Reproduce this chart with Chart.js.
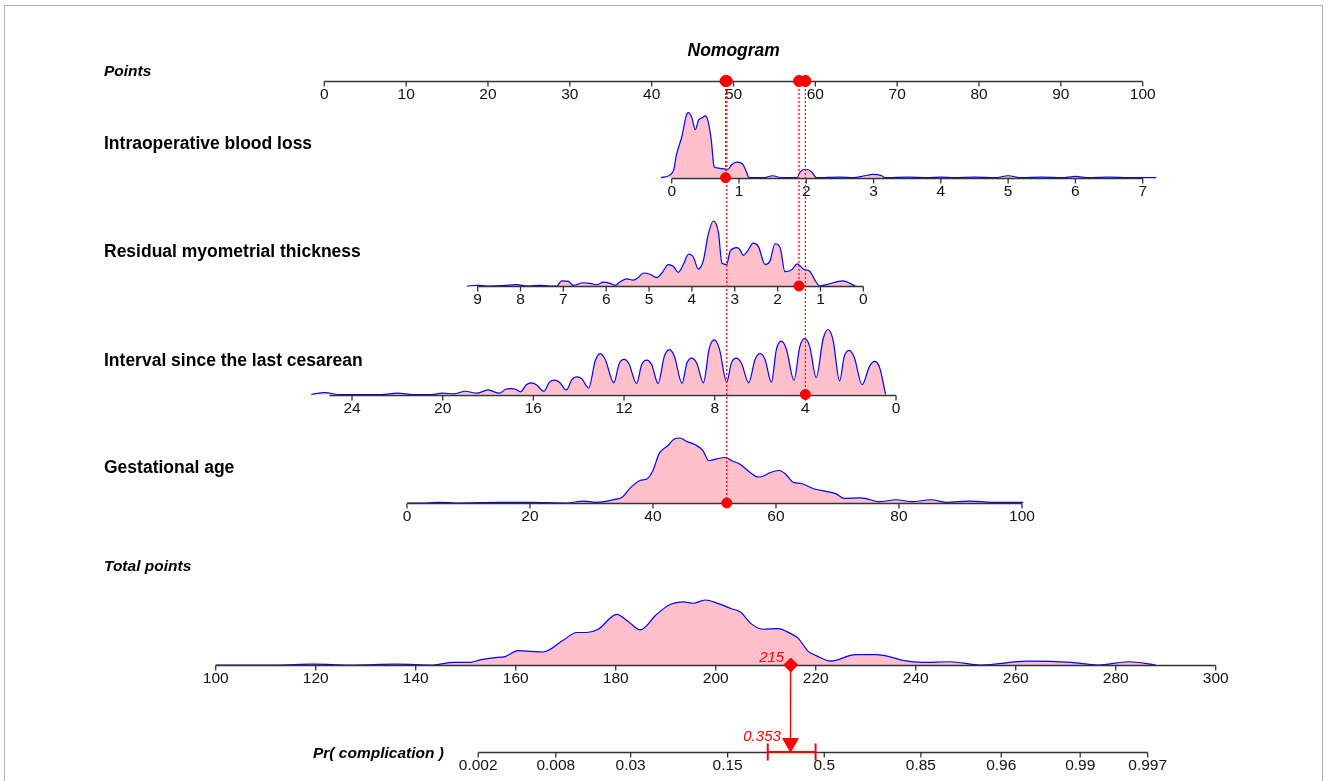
<!DOCTYPE html>
<html>
<head>
<meta charset="utf-8">
<title>Nomogram</title>
<script src="https://cdn.jsdelivr.net/npm/chart.js@4.4.1/dist/chart.umd.min.js"></script>
<style>
	html, body { margin: 0; padding: 0; background: #fff; }
	#wrap { width: 1328px; height: 781px; }
</style>
</head>
<body>
<div id="wrap"><canvas id="nomogram" width="1328" height="781"></canvas></div>
<script>
// axis ticks
const pointsTicks = [0, 10, 20, 30, 40, 50, 60, 70, 80, 90, 100];
const bloodLossTicks = [0, 1, 2, 3, 4, 5, 6, 7];
const myometriumTicks = [9, 8, 7, 6, 5, 4, 3, 2, 1, 0];
const intervalTicks = [24, 20, 16, 12, 8, 4, 0];
const gestationTicks = [0, 20, 40, 60, 80, 100];
const totalTicks = [100, 120, 140, 160, 180, 200, 220, 240, 260, 280, 300];
const probTicks = [0.002, 0.008, 0.03, 0.15, 0.5, 0.85, 0.96, 0.99, 0.997];

// points given by each predictor at two values of its scale
const bloodLossPoints = [[0, 42.45], [7, 100]];
const myometriumPoints = [[0, 65.86], [9, 18.74]];
const intervalPoints = [[0, 69.86], [24, 3.39]];
const gestationPoints = [[0, 10.1], [100, 85.25]];

// the patient
const patientValues = [0.8, 1.5, 4, 52];
const patientTotal = 215;
const patientProb = 0.353;
const patientCI = [0.266, 0.461];

// densities (height in % of the tallest bump of each row)
const bloodLossGrid = [-0.16, -0.03, 0.03, 0.07, 0.15, 0.22, 0.25, 0.3, 0.35, 0.4, 0.45, 0.5, 0.54, 0.59, 0.63, 0.67, 0.84, 0.89, 0.97, 1.06, 1.11, 1.15, 1.36, 1.5, 1.63, 1.86, 1.91, 1.99, 2.08, 2.15, 2.5, 2.7, 2.87, 2.99, 3.12, 3.17, 3.5, 3.8, 4.0, 4.2, 4.5, 4.8, 5.0, 5.2, 5.5, 5.8, 6.0, 6.2, 6.5, 6.8, 7.2];
const bloodLossDensity = [0, 4, 12, 35, 63, 97, 100, 92, 74, 89, 92, 95, 87, 56, 17, 15, 13, 20, 24, 20, 9, 0, 0, 3, 0, 0, 9, 13, 9, 0, 1, 0, 3, 5, 3, 0, 1, 0, 1, 0, 1, 0, 3, 0, 1, 0, 2, 0, 1, 0, 0];

const myometriumGrid = [9.25, 9.0, 8.79, 8.36, 8.09, 7.82, 7.54, 7.31, 7.15, 7.04, 6.88, 6.77, 6.53, 6.38, 6.22, 6.07, 5.91, 5.79, 5.68, 5.52, 5.37, 5.25, 5.13, 4.98, 4.82, 4.7, 4.55, 4.43, 4.32, 4.2, 4.08, 3.97, 3.85, 3.73, 3.62, 3.5, 3.38, 3.3, 3.19, 3.11, 2.95, 2.88, 2.8, 2.7, 2.57, 2.45, 2.29, 2.18, 2.06, 1.94, 1.83, 1.67, 1.54, 1.4, 1.24, 1.13, 1.01, 0.86, 0.47, 0.31, 0.19];
const myometriumDensity = [0, 1, 0, 1, 2, 0, 1, 0, 0, 8, 7, 1, 5, 4, 2, 6, 4, 1, 6, 11, 9, 13, 20, 18, 13, 20, 33, 30, 21, 33, 49, 45, 26, 40, 79, 100, 82, 35, 33, 53, 59, 56, 47, 54, 66, 61, 33, 38, 65, 59, 22, 25, 34, 26, 22, 9, 0, 2, 8, 4, 0];

const intervalGrid = [0.46, 0.72, 0.94, 1.16, 1.5, 1.84, 2.06, 2.28, 2.49, 2.78, 3.0, 3.22, 3.52, 3.81, 4.03, 4.25, 4.5, 4.84, 5.06, 5.28, 5.5, 5.78, 6.0, 6.22, 6.5, 6.82, 7.04, 7.26, 7.47, 7.8, 8.02, 8.24, 8.5, 8.79, 9.01, 9.23, 9.44, 9.78, 10.0, 10.22, 10.5, 10.78, 11.0, 11.22, 11.45, 11.78, 12.0, 12.22, 12.45, 12.83, 13.05, 13.27, 13.56, 13.86, 14.08, 14.3, 14.54, 14.85, 15.07, 15.29, 15.54, 15.87, 16.09, 16.31, 16.57, 16.78, 17.0, 17.22, 17.5, 18.0, 18.5, 19.0, 19.5, 20.0, 20.5, 21.3, 22.0, 22.7, 24.6, 25.2, 25.8];
const intervalDensity = [0, 41, 51, 44, 15, 57, 68, 59, 21, 84, 100, 85, 26, 74, 86, 73, 22, 70, 82, 69, 19, 54, 63, 54, 18, 48, 56, 49, 19, 71, 84, 71, 18, 48, 56, 48, 17, 59, 69, 59, 17, 46, 53, 46, 17, 47, 54, 47, 18, 54, 63, 52, 10, 24, 27, 23, 7, 19, 22, 19, 5, 15, 18, 15, 4, 8, 9, 8, 2, 7, 2, 5, 1, 2, 0, 0, 2, 0, 0, 3, 0];

const gestationGrid = [0, 3, 5.3, 8, 15, 20, 26, 28.7, 30.7, 34, 35, 36.4, 38, 39, 40, 41, 42.4, 43.4, 44.4, 45.4, 46.8, 48.1, 49.1, 50.4, 51.8, 52.8, 54.1, 55.8, 57.1, 58.1, 59.1, 60.5, 61.5, 62.8, 64.1, 66.1, 68.1, 69.8, 71.1, 73.8, 76.8, 79.5, 82.2, 85.2, 87.8, 91.5, 95, 100.2];
const gestationDensity = [0, 0, 1, 0, 1, 1, 0, 3, 1, 6, 9, 24, 35, 37, 50, 76, 88, 98, 100, 95, 90, 81, 65, 68, 70, 65, 60, 47, 40, 42, 47, 50, 45, 32, 30, 22, 18, 14, 7, 8, 2, 5, 2, 5, 1, 3, 1, 1];

const totalGrid = [100, 112, 119.5, 126.9, 136.2, 143.5, 147.5, 150.9, 152.9, 156.9, 157.9, 160.5, 162.9, 165.5, 169.5, 172.2, 174.2, 176.5, 180.2, 182.5, 184.9, 188.2, 190.9, 193.5, 195.5, 197.9, 200, 203, 205, 207, 209.4, 212.5, 214.8, 216.5, 218.5, 220.2, 223, 228, 232, 234.7, 237.4, 241.5, 246.9, 253, 262.4, 271.1, 276.5, 282.6, 288];
const totalDensity = [0, 0, 1.5, 0, 1.5, 0, 4, 4, 8, 12, 13, 22, 21, 20, 38, 50, 50, 55, 78, 67, 54, 78, 93, 97, 95, 100, 96, 87, 81, 64, 55, 56, 49, 41, 21, 14, 6, 16, 16, 13, 7, 4, 5, 0, 6, 4, 0, 5, 0];

// ---- layout (x in "Points" units, y in canvas-like units) ----
const PX_PER_POINT = 8.184;
const X_MIN = -324.3 / PX_PER_POINT;
const X_MAX = X_MIN + 1328 / PX_PER_POINT;
const DENS_SCALE = 0.65;
const FONT = '"Liberation Sans", Arial, Helvetica, sans-serif';

const linMap = (anchors) => {
	const [[v0, p0], [v1, p1]] = anchors;
	const k = (p1 - p0) / (v1 - v0);
	return (v) => p0 + (v - v0) * k;
};
const logit = (p) => Math.log(p / (1 - p));
const totalToX = linMap([[100, -13.27], [300, 108.92]]);
const logitToX = linMap([[0, 61.09], [1, 67.896]]);
const probToX = (p) => logitToX(logit(p));

const pointsRow = { label: "Points", italic: true, labelY: 76, base: 81, ticks: pointsTicks, span: [0, 100], toX: (v) => v };
const rows = [
	{ label: "Intraoperative blood loss", labelY: 149.3, base: 177.7, ticks: bloodLossTicks, span: [0, 7], toX: linMap(bloodLossPoints), grid: bloodLossGrid, dens: bloodLossDensity },
	{ label: "Residual myometrial thickness", labelY: 257.3, base: 286, ticks: myometriumTicks, span: [0, 9], toX: linMap(myometriumPoints), grid: myometriumGrid, dens: myometriumDensity },
	{ label: "Interval since the last cesarean", labelY: 366.3, base: 394.5, ticks: intervalTicks, span: [0, 25], toX: linMap(intervalPoints), grid: intervalGrid, dens: intervalDensity },
	{ label: "Gestational age", labelY: 473.3, base: 503, ticks: gestationTicks, span: [0, 100], toX: linMap(gestationPoints), grid: gestationGrid, dens: gestationDensity },
];
const totalRow = { label: "Total points", italic: true, labelY: 570.5, base: 665, ticks: totalTicks, span: [100, 300], toX: totalToX, grid: totalGrid, dens: totalDensity };
const probRow = { label: "Pr( complication )", italic: true, labelX: 313, labelY: 757.7, base: 752, ticks: probTicks, span: [0.002, 0.997], toX: probToX };
const axisRows = [pointsRow, ...rows, totalRow, probRow];

// ---- datasets ----
const RED = "#ff0000";
const densitySets = [...rows, totalRow].map((r) => ({
	type: "line",
	data: r.grid.map((v, i) => ({ x: r.toX(v), y: r.base - r.dens[i] * DENS_SCALE })).sort((a, b) => a.x - b.x),
	borderColor: "#0000ff",
	borderWidth: 1.2,
	backgroundColor: "#ffc0cb",
	fill: { value: r.base },
	pointRadius: 0,
	cubicInterpolationMode: "monotone",
	order: 2,
}));

const patientPts = rows.map((r, i) => r.toX(patientValues[i]));
const guideSets = rows.map((r, i) => ({
	type: "line",
	data: [{ x: patientPts[i], y: pointsRow.base }, { x: patientPts[i], y: r.base }],
	borderColor: RED,
	borderWidth: 1.2,
	borderDash: [2, 2],
	pointRadius: 0,
	fill: false,
	order: 1,
	marker: true,
}));

const totalX = totalToX(patientTotal);
const probX = probToX(patientProb);
const markerSets = [
	...guideSets,
	{
		type: "line",
		data: [{ x: totalX, y: totalRow.base }, { x: probX, y: probRow.base - 9 }],
		borderColor: RED,
		borderWidth: 1.3,
		pointRadius: 0,
		fill: false,
		order: 1,
		marker: true,
	},
	{
		type: "line",
		data: [{ x: probToX(patientCI[0]), y: probRow.base }, { x: probToX(patientCI[1]), y: probRow.base }],
		borderColor: RED,
		borderWidth: 2,
		pointStyle: "line",
		pointRotation: 90,
		pointRadius: 8.5,
		pointBorderWidth: 2,
		pointBorderColor: RED,
		fill: false,
		order: 0,
		marker: true,
	},
	{
		type: "scatter",
		data: rows.map((r, i) => ({ x: patientPts[i], y: r.base })),
		pointRadius: 5,
		backgroundColor: RED,
		borderColor: RED,
		order: 0,
		marker: true,
	},
	{
		type: "scatter",
		data: patientPts.map((p) => ({ x: p, y: pointsRow.base })),
		pointRadius: 5.5,
		backgroundColor: RED,
		borderColor: RED,
		order: 0,
		marker: true,
	},
	{
		type: "scatter",
		data: [{ x: totalX, y: totalRow.base }],
		pointStyle: "rectRot",
		pointRadius: 7,
		backgroundColor: RED,
		borderColor: RED,
		order: 0,
		marker: true,
	},
	{
		type: "scatter",
		data: [{ x: probX, y: probRow.base - 9 }],
		pointStyle: "triangle",
		pointRotation: 180,
		pointRadius: 9,
		backgroundColor: RED,
		borderColor: RED,
		order: 0,
		marker: true,
	},
];

// ---- drawing of axes and texts ----
let axesDrawn = false;

function drawAxes(chart) {
	const ctx = chart.ctx;
	const xs = chart.scales.x;
	const ys = chart.scales.y;
	ctx.save();
	ctx.strokeStyle = "#333";
	ctx.fillStyle = "#111";
	ctx.lineWidth = 1.3;
	ctx.font = `15.5px ${FONT}`;
	ctx.textAlign = "center";
	ctx.textBaseline = "alphabetic";
	axisRows.forEach((r) => {
		const y = Math.round(ys.getPixelForValue(r.base)) + 0.5;
		const a = xs.getPixelForValue(r.toX(r.span[0]));
		const b = xs.getPixelForValue(r.toX(r.span[1]));
		ctx.beginPath();
		ctx.moveTo(a, y);
		ctx.lineTo(b, y);
		ctx.stroke();
		r.ticks.forEach((t) => {
			const x = xs.getPixelForValue(r.toX(t));
			ctx.beginPath();
			ctx.moveTo(x, y);
			ctx.lineTo(x, y + 5);
			ctx.stroke();
			ctx.fillText(String(t), x, y + 17.8);
		});
	});
	ctx.restore();
}

const nomogramPlugin = {
	id: "nomogram",
	beforeDraw(chart) {
		const ctx = chart.ctx;
		ctx.save();
		ctx.fillStyle = "#fff";
		ctx.fillRect(0, 0, chart.width, chart.height);
		ctx.strokeStyle = "#b4b4b4";
		ctx.lineWidth = 1;
		ctx.strokeRect(4.5, 5.5, 1318, 800);
		ctx.restore();
	},
	beforeDatasetsDraw() {
		axesDrawn = false;
	},
	beforeDatasetDraw(chart, args) {
		if (!axesDrawn && chart.data.datasets[args.index].marker) {
			drawAxes(chart);
			axesDrawn = true;
		}
	},
	afterDraw(chart) {
		const ctx = chart.ctx;
		const xs = chart.scales.x;
		const ys = chart.scales.y;
		ctx.save();
		ctx.fillStyle = "#000";
		ctx.textBaseline = "alphabetic";
		ctx.textAlign = "center";
		ctx.font = `italic bold 17.5px ${FONT}`;
		ctx.fillText("Nomogram", 733.7, 55.7);

		ctx.textAlign = "left";
		axisRows.forEach((r) => {
			ctx.font = r.italic ? `italic bold 15.5px ${FONT}` : `bold 17.5px ${FONT}`;
			ctx.fillText(r.label, r.labelX || 104, r.labelY);
		});

		ctx.fillStyle = RED;
		ctx.textAlign = "right";
		ctx.font = `italic 15px ${FONT}`;
		ctx.fillText(String(patientTotal), xs.getPixelForValue(totalX) - 6.5, ys.getPixelForValue(totalRow.base) - 3.4);
		ctx.fillText(patientProb.toFixed(3), xs.getPixelForValue(probX) - 9.7, ys.getPixelForValue(probRow.base) - 11);
		ctx.restore();
	},
};

new Chart(document.getElementById("nomogram"), {
	data: { datasets: [...densitySets, ...markerSets] },
	options: {
		responsive: false,
		animation: false,
		events: [],
		layout: { padding: 0, autoPadding: false },
		scales: {
			x: { type: "linear", min: X_MIN, max: X_MAX, display: false },
			y: { type: "linear", min: 0, max: 781, reverse: true, display: false },
		},
		plugins: {
			legend: { display: false },
			tooltip: { enabled: false },
		},
	},
	plugins: [nomogramPlugin],
});
</script>
</body>
</html>
